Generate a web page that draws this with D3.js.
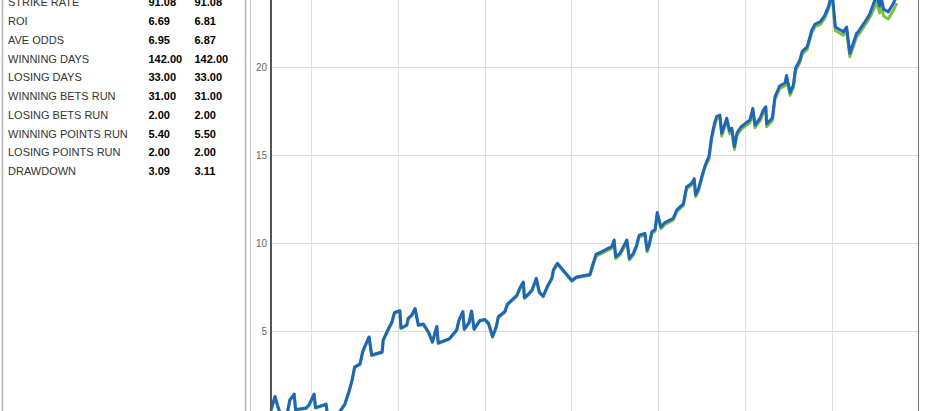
<!DOCTYPE html>
<html lang="en">
<head>
  <meta charset="utf-8" />
  <title>Profit chart</title>
  <script src="https://d3js.org/d3.v7.min.js"></script>
  <style>
    body { margin: 0; background: #fff; font-family: Arial, "Liberation Sans", sans-serif; }
    svg { display: block; }
    .lbl { font-size: 11px; fill: #333; }
    .val { font-size: 11px; font-weight: bold; fill: #000; }
    .grid line { stroke: #dedede; stroke-width: 1; }
    .ytick { font-size: 10px; fill: #666; }
  </style>
</head>
<body>
<svg id="chart" width="940" height="411"></svg>
<script>
// stats table
var statLabels = ["STRIKE RATE", "ROI", "AVE ODDS", "WINNING DAYS", "LOSING DAYS",
  "WINNING BETS RUN", "LOSING BETS RUN", "WINNING POINTS RUN", "LOSING POINTS RUN", "DRAWDOWN"];
var statA = ["91.08", "6.69", "6.95", "142.00", "33.00", "31.00", "2.00", "5.40", "2.00", "3.09"];
var statB = ["91.08", "6.81", "6.87", "142.00", "33.00", "31.00", "2.00", "5.50", "2.00", "3.11"];

// chart ticks
var yTicks = [0, 5, 10, 15, 20, 25];
var xGrid = [11, 35, 59, 83, 107, 131, 155, 179];

// day index of each vertex
var days = [
  0, 1.1, 2.2, 3.0, 4.5, 5.2, 6.4, 6.8, 9.7, 10.5,
  11.9, 12.3, 14.6, 15.2, 15.5, 17.2, 19.1, 20.4, 21.5, 22.4,
  23.1, 24.6, 25.3, 26.2, 27.1, 27.8, 30.7, 31.0, 32.3, 33.4,
  34.1, 35.6, 35.9, 37.5, 37.9, 38.9, 39.8, 40.7, 42.1, 43.5,
  44.6, 45.8, 46.2, 49.2, 51.3, 51.9, 53.0, 53.4, 54.7, 55.4,
  56.1, 57.7, 59.1, 60.1, 61.2, 62.2, 62.8, 64.6, 65.3, 67.9,
  68.8, 69.7, 70.0, 71.1, 72.1, 73.3, 74.1, 75.2, 76.4, 77.6,
  78.0, 79.1, 83.1, 84.4, 88.1, 89.0, 89.8, 91.4, 94.1, 94.8,
  95.2, 96.4, 98.3, 99.0, 100.1, 101.0, 101.7, 103.3, 103.9, 104.5,
  105.2, 106.1, 106.7, 107.7, 108.8, 111.1, 112.1, 113.9, 114.8, 116.3,
  116.9, 117.3, 118.1, 119.0, 119.9, 121.0, 121.7, 122.5, 123.1, 124.0,
  124.5, 125.9, 126.7, 127.3, 128.0, 128.7, 129.8, 132.3, 133.1, 133.7,
  135.1, 136.0, 136.7, 136.9, 138.5, 139.2, 140.5, 142.0, 142.4, 143.4,
  144.3, 144.9, 146.1, 146.7, 148.1, 149.4, 150.3, 151.7, 152.9, 154.0,
  155.0, 155.9, 158.1, 159.0, 159.9, 161.8, 162.2, 164.4, 165.4, 166.7,
  167.3, 168.1, 168.6, 169.2, 170.5, 171.8, 172.9
];

// blue series (points)
var blueVals = [
  0.51, 1.28, 0.51, 0.17, 0.34, 1.08, 1.42, 0.54, 0.63, 0.80,
  1.42, 0.65, 0.80, 0.85, 0.40, -0.06, 0.45, 0.85, 1.53, 2.22,
  2.95, 3.13, 3.81, 4.26, 4.66, 3.64, 3.81, 4.49, 5.06, 5.51,
  6.05, 6.15, 5.17, 5.34, 5.72, 5.91, 6.28, 5.34, 5.40, 4.94,
  4.38, 5.26, 4.32, 4.55, 5.06, 5.60, 6.10, 5.11, 5.48, 6.14,
  5.11, 5.60, 5.65, 5.44, 4.69, 5.23, 5.81, 6.11, 6.53, 7.02,
  7.47, 7.78, 6.90, 7.10, 7.33, 7.99, 7.22, 6.99, 7.56, 8.01,
  8.47, 8.85, 7.87, 8.07, 8.21, 8.85, 9.35, 9.51, 9.79, 10.17,
  9.22, 9.41, 10.17, 9.13, 9.41, 9.89, 10.45, 10.55, 9.60, 9.94,
  10.64, 10.77, 11.73, 10.91, 11.16, 11.40, 11.88, 12.22, 13.18, 13.41,
  13.66, 12.73, 13.07, 13.77, 14.40, 14.94, 16.02, 16.80, 17.18, 17.27,
  16.23, 17.09, 16.36, 16.52, 15.47, 16.25, 16.59, 16.99, 17.65, 16.70,
  17.09, 17.56, 17.74, 16.76, 17.10, 18.30, 18.92, 19.09, 19.52, 18.55,
  18.98, 19.93, 20.40, 20.87, 21.14, 22.10, 22.44, 22.56, 22.90, 23.43,
  24.26, 22.27, 22.00, 22.27, 20.78, 21.93, 22.00, 22.67, 23.01, 23.75,
  24.10, 23.47, 23.92, 23.30, 23.13, 23.58, 24.03
];

// green series (points)
var greenVals = [
  0.48, 1.25, 0.48, 0.14, 0.31, 1.05, 1.39, 0.51, 0.60, 0.77,
  1.39, 0.62, 0.77, 0.82, 0.37, -0.09, 0.42, 0.82, 1.50, 2.19,
  2.92, 3.10, 3.78, 4.23, 4.63, 3.61, 3.78, 4.46, 5.03, 5.48,
  6.02, 6.12, 5.14, 5.31, 5.69, 5.88, 6.25, 5.31, 5.37, 4.91,
  4.35, 5.23, 4.29, 4.52, 5.03, 5.57, 6.07, 5.08, 5.45, 6.11,
  5.08, 5.57, 5.62, 5.39, 4.64, 5.18, 5.76, 6.06, 6.48, 6.97,
  7.42, 7.73, 6.85, 7.05, 7.28, 7.94, 7.17, 6.94, 7.51, 7.96,
  8.42, 8.80, 7.82, 8.02, 8.16, 8.75, 9.25, 9.41, 9.69, 10.07,
  9.12, 9.31, 10.07, 9.03, 9.31, 9.79, 10.35, 10.45, 9.50, 9.84,
  10.54, 10.67, 11.63, 10.81, 11.06, 11.30, 11.78, 12.12, 13.08, 13.31,
  13.56, 12.63, 12.97, 13.67, 14.30, 14.79, 15.87, 16.65, 17.03, 17.12,
  16.08, 16.94, 16.21, 16.37, 15.32, 16.10, 16.44, 16.84, 17.50, 16.55,
  16.94, 17.41, 17.59, 16.61, 16.95, 18.15, 18.77, 18.94, 19.37, 18.40,
  18.83, 19.78, 20.25, 20.72, 20.99, 21.95, 22.29, 22.41, 22.75, 23.28,
  24.06, 22.07, 21.80, 22.07, 20.58, 21.73, 21.80, 22.47, 22.81, 23.35,
  23.70, 23.07, 23.52, 22.90, 22.73, 23.18, 23.63
];

var svg = d3.select("#chart");

// ---- left stats panel
svg.append("line").attr("x1", 2.5).attr("x2", 2.5).attr("y1", 0).attr("y2", 411)
  .attr("stroke", "#b5b5b5").attr("stroke-width", 1.5);
svg.append("line").attr("x1", 245.5).attr("x2", 245.5).attr("y1", 0).attr("y2", 411)
  .attr("stroke", "#b5b5b5").attr("stroke-width", 1.5);
svg.append("line").attr("x1", 250.5).attr("x2", 250.5).attr("y1", 0).attr("y2", 411)
  .attr("stroke", "#c8c8c8").attr("stroke-width", 1);

var rows = svg.append("g").selectAll("g")
  .data(statLabels)
  .enter().append("g")
  .attr("transform", function(d, i) { return "translate(0," + (6.3 + i * 18.75) + ")"; });
rows.append("text").attr("class", "lbl").attr("x", 8).text(function(d) { return d; });
rows.append("text").attr("class", "val").attr("x", 148.5).text(function(d, i) { return statA[i]; });
rows.append("text").attr("class", "val").attr("x", 194.5).text(function(d, i) { return statB[i]; });

// ---- chart
var x = d3.scaleLinear().domain([0, 179]).range([271, 919]);
var y = d3.scaleLinear().domain([0, 25]).range([419, -21]);

var grid = svg.append("g").attr("class", "grid");
grid.selectAll(".h").data(yTicks).enter().append("line")
  .attr("x1", 271).attr("x2", 918)
  .attr("y1", function(d) { return Math.round(y(d)) + 0.5; })
  .attr("y2", function(d) { return Math.round(y(d)) + 0.5; });
grid.selectAll(".v").data(xGrid.slice(0, -1)).enter().append("line")
  .attr("y1", 0).attr("y2", 411)
  .attr("x1", function(d) { return Math.round(x(d)) + 0.5; })
  .attr("x2", function(d) { return Math.round(x(d)) + 0.5; });

// right frame edge
svg.append("line").attr("x1", 918.5).attr("x2", 918.5).attr("y1", 0).attr("y2", 411)
  .attr("stroke", "#7a7a7a").attr("stroke-width", 1);

svg.append("g").selectAll("text")
  .data(yTicks.filter(function(d) { return d > 0 && d < 25; }))
  .enter().append("text")
  .attr("class", "ytick")
  .attr("x", 267).attr("text-anchor", "end")
  .attr("y", function(d) { return y(d); }).attr("dy", "0.35em")
  .text(function(d) { return d; });

var line = d3.line()
  .x(function(d) { return x(d[0]); })
  .y(function(d) { return y(d[1]); });

var greenPts = days.map(function(d, i) { return [d, greenVals[i]]; });
var bluePts = days.map(function(d, i) { return [d, blueVals[i]]; });

svg.append("path").datum(greenPts).attr("d", line)
  .attr("fill", "none").attr("stroke", "#7cc242").attr("stroke-width", 3)
  .attr("stroke-linejoin", "round");
svg.append("path").datum(bluePts).attr("d", line)
  .attr("fill", "none").attr("stroke", "#1f66b9").attr("stroke-width", 3)
  .attr("stroke-linejoin", "round");

// y axis line
svg.append("line").attr("x1", 271).attr("x2", 271).attr("y1", 0).attr("y2", 411)
  .attr("stroke", "#555").attr("stroke-width", 2);
</script>
</body>
</html>
